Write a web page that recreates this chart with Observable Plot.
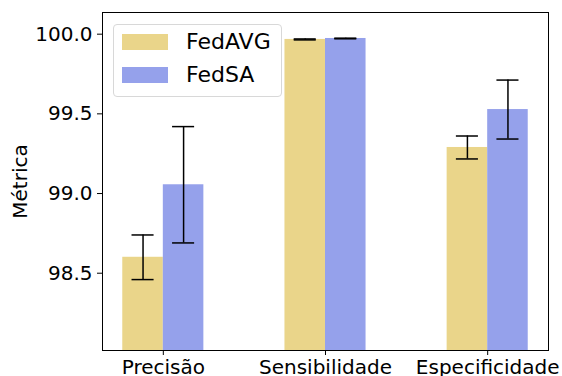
<!DOCTYPE html>
<html>
<head>
<meta charset="utf-8">
<script src="https://cdn.jsdelivr.net/npm/d3@7"></script>
<script src="https://cdn.jsdelivr.net/npm/@observablehq/plot@0.6"></script>
<style>
  html, body { margin: 0; padding: 0; background: #fff; }
  #wrap { position: relative; width: 562px; height: 376px; font-family: "DejaVu Sans", sans-serif; }
  #legend { position: absolute; left: 113px; top: 24px; width: 169px; height: 73px; box-sizing: border-box;
            border: 1px solid #d8d8d8; border-radius: 4px; background: rgba(255,255,255,0.8); }
  .item { position: absolute; left: 8px; height: 16px; display: flex; align-items: center; }
  .sw { width: 46px; height: 16px; }
  .lb { margin-left: 18px; font-size: 22px; line-height: 16px; color: #000; }
</style>
</head>
<body>
<div id="wrap"></div>
<script>
const metrics = ["Precisão", "Sensibilidade", "Especificidade"];
const methods = ["FedAVG", "FedSA"];
const fedavgMean = [98.60, 99.967, 99.289];
const fedavgErr  = [0.14, 0.003, 0.072];
const fedsaMean  = [99.055, 99.973, 99.527];
const fedsaErr   = [0.365, 0.002, 0.185];
const colors = ["#EAD58A", "#95A1EB"];
const yTicks = [98.5, 99.0, 99.5, 100.0];

const barW = 0.25, cap = 0.068;
const rows = metrics.flatMap((m, i) => [
  {metric: m, method: methods[0], pos: i - barW / 2, mean: fedavgMean[i], err: fedavgErr[i]},
  {metric: m, method: methods[1], pos: i + barW / 2, mean: fedsaMean[i], err: fedsaErr[i]}
]);

const chart = Plot.plot({
  width: 562, height: 376,
  marginLeft: 102, marginTop: 12, marginRight: 14, marginBottom: 26,
  style: {fontFamily: "DejaVu Sans, sans-serif", fontSize: "20px", color: "#000", background: "#fff"},
  x: {domain: [-0.375, 2.375], ticks: [0, 1, 2], tickFormat: i => metrics[i], tickSize: 5, tickPadding: 4, label: null},
  y: {domain: [98.015, 100.136], ticks: yTicks, tickFormat: d3.format(".1f"), tickSize: 5, tickPadding: 5,
      label: "Métrica", labelAnchor: "center", labelOffset: 90, labelArrow: "none"},
  color: {domain: methods, range: colors},
  marks: [
    Plot.rectY(rows, {x1: d => d.pos - barW / 2, x2: d => d.pos + barW / 2, y1: 0, y2: "mean", fill: "method", clip: true}),
    Plot.ruleX(rows, {x: "pos", y1: d => d.mean - d.err, y2: d => d.mean + d.err, stroke: "#000", strokeWidth: 1.5}),
    Plot.ruleY(rows, {y: d => d.mean - d.err, x1: d => d.pos - cap, x2: d => d.pos + cap, stroke: "#000", strokeWidth: 1.5}),
    Plot.ruleY(rows, {y: d => d.mean + d.err, x1: d => d.pos - cap, x2: d => d.pos + cap, stroke: "#000", strokeWidth: 1.5}),
    Plot.frame({stroke: "#000", strokeWidth: 1})
  ]
});

const wrap = document.getElementById("wrap");
wrap.appendChild(chart);
const legend = document.createElement("div");
legend.id = "legend";
methods.forEach((m, k) => {
  const it = document.createElement("div");
  it.className = "item";
  it.style.top = (9 + k * 33) + "px";
  it.innerHTML = `<div class="sw" style="background:${colors[k]}"></div><div class="lb">${m}</div>`;
  legend.appendChild(it);
});
wrap.appendChild(legend);
</script>
</body>
</html>
